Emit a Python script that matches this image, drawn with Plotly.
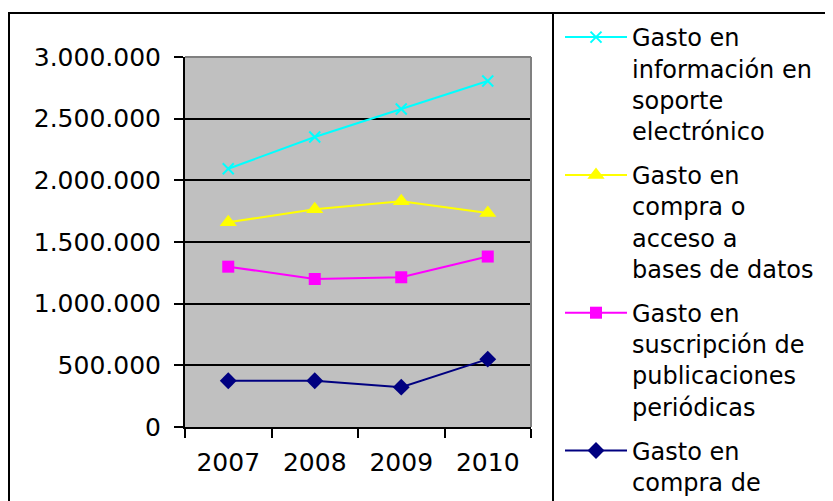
import plotly.graph_objects as go

years = ["2007", "2008", "2009", "2010"]
electronico = [2094000, 2351000, 2578000, 2805000]
bases_datos = [1660000, 1765000, 1830000, 1735000]
publicaciones = [1300000, 1200000, 1214000, 1382000]
compra = [375000, 375000, 323000, 550000]

names = [
    "Gasto en<br>información en<br>soporte<br>electrónico",
    "Gasto en<br>compra o<br>acceso a<br>bases de datos",
    "Gasto en<br>suscripción de<br>publicaciones<br>periódicas",
    "Gasto en<br>compra de",
]
series = [electronico, bases_datos, publicaciones, compra]
colors = ["#00FFFF", "#FFFF00", "#FF00FF", "#000080"]
symbols = ["x-thin", "triangle-up", "square", "diamond"]
sizes = [11, 15, 12, 13]

FONT = "DejaVu Sans"
OFF = 8  # page body margin offset

fig = go.Figure()
for i in range(4):
    fig.add_trace(go.Scatter(
        x=years, y=series[i], name=names[i], mode="lines+markers",
        legendgroup=f"g{i}",
        line=dict(color=colors[i], width=2),
        marker=dict(symbol=symbols[i], size=sizes[i], color=colors[i],
                    line=dict(color=colors[i], width=2 if i == 0 else 0)),
    ))

W, H = 833 - OFF, 501 - OFF
L, R, T, B = 185 - OFF, 531 - OFF, 57 - OFF, 427 - OFF
pw, ph = R - L, B - T

def px(x):
    return (x - OFF - L) / pw

def py(y):
    return 1 - (y - OFF - T) / ph

shapes = [
    dict(type="line", xref="paper", yref="paper", x0=0, x1=1, y0=1, y1=1,
         line=dict(color="#808080", width=2), layer="above"),
    dict(type="line", xref="paper", yref="paper", x0=1, x1=1, y0=0, y1=1,
         line=dict(color="#808080", width=2), layer="above"),
    dict(type="rect", xref="paper", yref="paper", x0=px(9), x1=px(900),
         y0=py(560), y1=py(13), line=dict(color="black", width=2),
         fillcolor="rgba(0,0,0,0)", layer="above"),
    dict(type="line", xref="paper", yref="paper", x0=px(553), x1=px(553),
         y0=py(560), y1=py(13), line=dict(color="black", width=2), layer="above"),
]

fig.update_layout(
    width=W, height=H,
    margin=dict(l=L, r=W - R, t=T, b=H - B, pad=0, autoexpand=False),
    paper_bgcolor="white", plot_bgcolor="#C0C0C0",
    separators=",.",
    font=dict(family=FONT, size=24, color="black"),
    showlegend=True,
    legend=dict(
        x=px(560), y=py(15), xanchor="left", yanchor="top",
        font=dict(family=FONT, size=24, color="black"),
        itemwidth=62, valign="top", tracegroupgap=10,
        bgcolor="rgba(0,0,0,0)", borderwidth=0, traceorder="grouped",
        maxheight=1000,
    ),
    xaxis=dict(
        type="category", range=[-0.5, 3.5], tickson="boundaries",
        ticks="outside", ticklen=9, tickwidth=2, tickcolor="black",
        showline=True, linecolor="black", linewidth=2, showgrid=False,
        tickfont=dict(family=FONT, size=25, color="black"),
        ticklabelstandoff=12, fixedrange=True,
    ),
    yaxis=dict(
        range=[0, 3000000], dtick=500000, tickformat=",d",
        ticks="outside", ticklen=9, tickwidth=2, tickcolor="black",
        showline=True, linecolor="black", linewidth=2,
        showgrid=True, gridcolor="black", gridwidth=2, zeroline=False,
        tickfont=dict(family=FONT, size=25, color="black"),
        ticklabelstandoff=8, fixedrange=True,
    ),
    shapes=shapes,
)

fig.write_html("out.html")
